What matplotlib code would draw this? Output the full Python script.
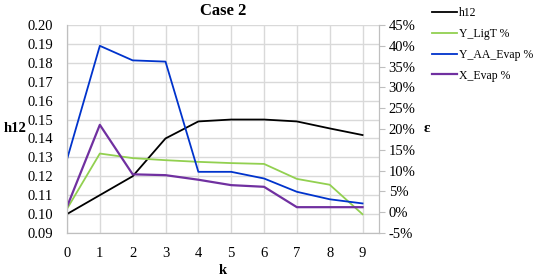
import matplotlib.pyplot as plt
import numpy as np

plt.rcParams['font.family'] = ['Liberation Serif', 'DejaVu Serif']

k = [0, 1, 2, 3, 4, 5, 6, 7, 8, 9]
h12 = [0.100, 0.110, 0.120, 0.140, 0.149, 0.150, 0.150, 0.149, 0.1453, 0.1418]
y_ligt = [0.8, 14.1, 13.0, 12.5, 12.1, 11.8, 11.6, 8.0, 6.6, -0.5]
y_aa_evap = [12.7, 40.0, 36.5, 36.2, 9.7, 9.7, 8.1, 4.9, 3.1, 2.1]
x_evap = [1.3, 21.0, 9.1, 8.9, 7.8, 6.5, 6.1, 1.2, 1.2, 1.2]

left_ticks = np.arange(0.09, 0.2001, 0.01)
right_ticks = np.arange(-5, 45.1, 5)

fig = plt.figure(figsize=(5.36, 2.78), dpi=100)
ax = fig.add_axes([0.125, 0.162, 0.582, 0.748])
ax2 = ax.twinx()

grid_c = '#d9d9d9'
spine_c = '#bfbfbf'

l1, = ax.plot(k, h12, color='black', lw=1.3, label='h12')
l2, = ax2.plot(k, y_ligt, color='#92d050', lw=1.3, label='Y_LigT %')
l3, = ax2.plot(k, y_aa_evap, color='#0033cc', lw=1.3, label='Y_AA_Evap %')
l4, = ax2.plot(k, x_evap, color='#7030a0', lw=1.6, label='X_Evap %')

ax.set_xlim(0, 9.5)
ax.set_ylim(0.09, 0.20)
ax.set_yticks(left_ticks)
ax.set_yticklabels([f'{v:.2f}' for v in left_ticks])
ax.set_xticks(k)
ax2.set_ylim(-5, 45)
ax2.set_yticks(right_ticks)
ax2.set_yticklabels([f'{int(v)}%' for v in right_ticks])

ax.grid(True, color=grid_c, lw=1)
ax.set_axisbelow(True)
for a in (ax, ax2):
    for s in a.spines.values():
        s.set_color(spine_c)
    a.spines['top'].set_visible(False)
ax.tick_params(axis='y', length=0, labelsize=10.5, pad=10)
ax.tick_params(axis='x', length=0, labelsize=10.5, pad=10)
ax2.tick_params(axis='y', length=4, color=spine_c, labelsize=10.5, pad=3)

ax.set_title('Case 2', fontweight='bold', fontsize=12, pad=7)
ax.set_xlabel('k', fontweight='bold', fontsize=10.5, labelpad=3)
ax.set_ylabel('h12', fontweight='bold', fontsize=10.5, rotation=0, labelpad=9, va='center')
ax2.set_ylabel('ε', fontweight='bold', fontsize=11, rotation=0, labelpad=8, va='center')

fig.legend(handles=[l1, l2, l3, l4], loc='upper left', bbox_to_anchor=(0.806, 0.975),
           frameon=False, fontsize=8.5, handlelength=2.1, handletextpad=0.2,
           labelspacing=0.75, borderaxespad=0, borderpad=0)

fig.savefig('out.png', dpi=100)
